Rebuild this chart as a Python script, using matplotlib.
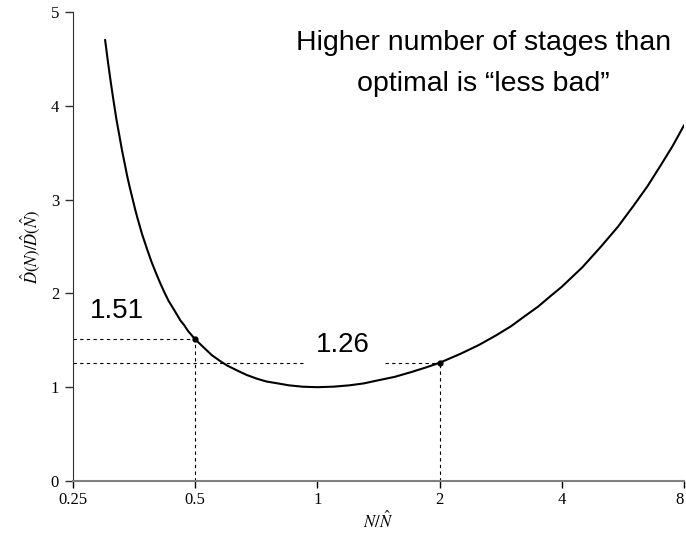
import numpy as np
import matplotlib
matplotlib.use('Agg')
import matplotlib.pyplot as plt
from matplotlib.ticker import FixedLocator, NullLocator

# values
ratio_n = [0.300, 0.305, 0.31, 0.315, 0.32, 0.325, 0.33, 0.335, 0.34, 0.345, 0.35, 0.355,
           0.36, 0.37, 0.38, 0.39, 0.40, 0.41, 0.42, 0.43, 0.44, 0.45, 0.46, 0.47, 0.48,
           0.50, 0.52, 0.55, 0.58, 0.60, 0.64, 0.67, 0.71, 0.75, 0.80, 0.85, 0.92,
           1.0, 1.1, 1.2, 1.3, 1.4, 1.55, 1.7, 1.85, 2.0, 2.25, 2.5, 2.75, 3.0, 3.25,
           3.5, 3.75, 4.0, 4.5, 5.0, 5.5, 6.0, 6.5, 7.0, 7.5, 8.0]
ratio_d = [4.70, 4.46, 4.24, 4.04, 3.85, 3.69, 3.53, 3.39, 3.25, 3.13, 3.02, 2.91,
           2.81, 2.63, 2.48, 2.34, 2.22, 2.11, 2.01, 1.92, 1.85, 1.78, 1.71, 1.66, 1.60,
           1.51, 1.44, 1.34, 1.27, 1.23, 1.17, 1.13, 1.09, 1.06, 1.04, 1.02, 1.005,
           1.00, 1.006, 1.02, 1.04, 1.07, 1.11, 1.16, 1.21, 1.26, 1.355, 1.45, 1.55, 1.65, 1.76,
           1.86, 1.97, 2.07, 2.28, 2.50, 2.71, 2.93, 3.14, 3.36, 3.57, 3.79]

marked_n = [0.5, 2.0]
marked_d = [1.51, 1.26]

xticks = [0.25, 0.5, 1, 2, 4, 8]
xtick_labels = ['0.25', '0.5', '1', '2', '4', '8']
yticks = [0, 1, 2, 3, 4, 5]

plt.rcParams['mathtext.fontset'] = 'stix'
serif = 'Liberation Serif'
sans = 'Liberation Sans'

fig = plt.figure(figsize=(6.86, 5.37), dpi=100)
ax = fig.add_axes([0.1064, 0.1043, 0.8906, 0.8734])

ax.plot(ratio_n, ratio_d, color='black', lw=1.5, solid_joinstyle='round')
ax.plot(marked_n, marked_d, 'o', color='black', ms=3.5)

# dashed guides
dash = dict(ls=(0, (3, 3)), color='black', lw=0.8)
ax.plot([0.25, marked_n[0]], [marked_d[0], marked_d[0]], **dash)
ax.plot([marked_n[0], marked_n[0]], [0, marked_d[0]], **dash)
ax.plot([0.25, 0.93], [marked_d[1], marked_d[1]], **dash)
ax.plot([1.47, marked_n[1]], [marked_d[1], marked_d[1]], **dash)
ax.plot([marked_n[1], marked_n[1]], [0, marked_d[1]], **dash)

ax.text(0.275, 1.74, '1.51', fontsize=20, family=sans, va='baseline')
ax.text(0.99, 1.38, '1.26', fontsize=20, family=sans, va='baseline')
ax.text(0.672, 0.918, 'Higher number of stages than', transform=ax.transAxes,
        fontsize=20.5, family=sans, ha='center', va='baseline')
ax.text(0.672, 0.831, 'optimal is \u201cless bad\u201d', transform=ax.transAxes,
        fontsize=20.5, family=sans, ha='center', va='baseline')

ax.set_xscale('log', base=2)
ax.set_xlim(0.25, 8)
ax.set_ylim(0, 5)
ax.xaxis.set_major_locator(FixedLocator(xticks))
ax.xaxis.set_minor_locator(NullLocator())
ax.set_xticklabels(xtick_labels)
ax.set_yticks(yticks)

for lab in ax.get_xticklabels() + ax.get_yticklabels():
    lab.set_family(serif)
    lab.set_fontsize(12)
ax.get_xticklabels()[-1].set_horizontalalignment('right')

ax.spines['top'].set_visible(False)
ax.spines['right'].set_visible(False)
ax.spines['left'].set_color('#303030')
ax.spines['bottom'].set_color('#808080')
ax.spines['bottom'].set_linewidth(1.5)
ax.tick_params(axis='y', direction='out', length=6, width=1, color='#303030', pad=4)
ax.tick_params(axis='x', direction='out', length=5, width=1, color='black', pad=3)

ax.set_xlabel(r'$N/\hat{N}$', fontsize=12, labelpad=2)
ax.set_ylabel(r'$\hat{D}(N)/\hat{D}(\hat{N})$', fontsize=12, labelpad=6)

fig.savefig('out.png', dpi=100)
